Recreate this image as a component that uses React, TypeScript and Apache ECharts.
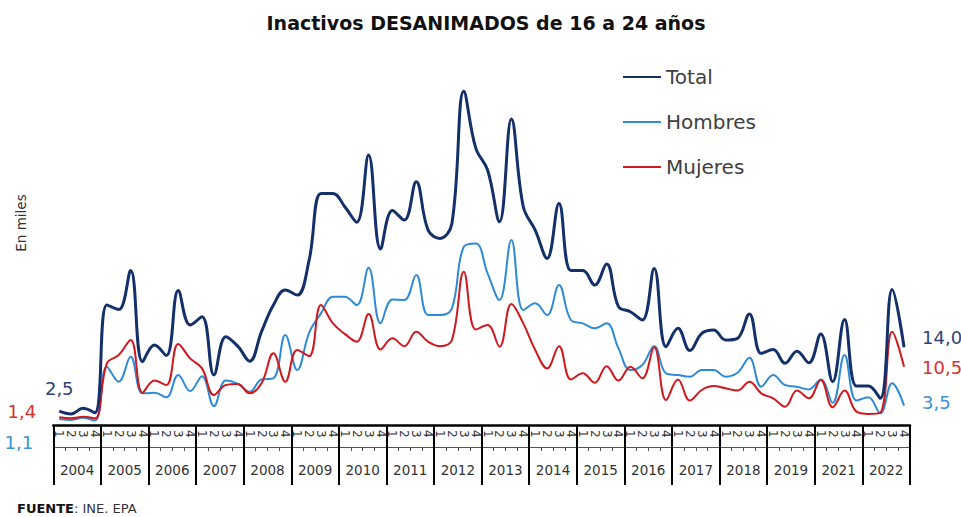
import React, { useEffect, useRef } from 'react';
import * as echarts from 'echarts';

const years = ['2004', '2005', '2006', '2007', '2008', '2009', '2010', '2011', '2012', '2013', '2014', '2015', '2016', '2017', '2018', '2019', '2021', '2022'];
const quarterLabels = ['1', '2', '3', '4'];

const totalValues = [
  2.5, 2.0, 3.0, 2.2,
  21.6, 20.8, 27.8, 11.4,
  14.4, 12.5, 24.2, 18.0,
  19.5, 9.0, 15.9, 14.2,
  11.5, 16.8, 21.6, 24.3,
  23.4, 29.7, 41.7, 41.7,
  39.3, 36.5, 48.6, 31.7,
  38.6, 36.9, 43.8, 35.1,
  33.6, 36.3, 60.1, 49.9,
  45.9, 36.6, 55.1, 39.3,
  35.1, 30.0, 39.9, 27.8,
  27.8, 25.2, 29.0, 21.3,
  20.4, 18.9, 28.2, 14.1,
  17.4, 13.4, 16.5, 17.1,
  15.3, 15.6, 20.0, 12.9,
  13.6, 11.1, 13.3, 11.2,
  16.4, 7.8, 19.0, 7.0,
  7.0, 4.8, 24.4, 14.0,
];

const hombresValues = [
  1.1, 0.9, 1.3, 0.8,
  10.5, 7.8, 12.3, 5.7,
  5.8, 5.0, 9.0, 6.1,
  8.8, 3.4, 8.0, 7.4,
  6.0, 8.2, 8.4, 16.2,
  9.9, 16.6, 20.1, 23.1,
  23.1, 21.6, 28.3, 18.3,
  22.6, 22.5, 27.0, 19.8,
  19.8, 21.0, 32.1, 32.7,
  27.3, 22.5, 33.3, 20.7,
  21.9, 19.8, 25.2, 18.9,
  18.3, 17.4, 18.3, 13.8,
  9.9, 10.8, 14.2, 9.3,
  9.0, 8.7, 9.9, 9.9,
  8.7, 9.4, 12.1, 6.9,
  9.0, 7.2, 6.9, 6.4,
  8.2, 4.0, 12.6, 4.4,
  5.0, 2.1, 7.5, 3.5,
];

const mujeresValues = [
  1.4, 1.2, 1.5, 1.2,
  11.1, 12.6, 15.3, 5.8,
  8.0, 7.2, 14.6, 12.0,
  10.2, 5.4, 7.2, 7.4,
  5.7, 7.5, 12.9, 7.8,
  13.5, 12.4, 21.6, 18.3,
  16.4, 15.0, 20.0, 13.6,
  15.6, 14.2, 16.8, 15.0,
  14.2, 15.3, 27.6, 17.2,
  18.0, 14.1, 21.8, 18.3,
  13.5, 10.2, 14.2, 8.2,
  9.3, 7.6, 10.6, 8.0,
  10.5, 8.4, 14.0, 4.5,
  8.2, 4.4, 6.3, 7.0,
  6.6, 6.2, 7.8, 5.7,
  4.8, 3.3, 6.2, 4.8,
  8.1, 3.2, 6.2, 2.4,
  2.0, 2.2, 16.8, 10.5,
];

const FONT = 'DejaVu Sans';
const NAVY = '#13306b';
const BLUE = '#2f8bd6';
const RED = '#d0191e';

const fmt = (v: number) => v.toFixed(1).replace('.', ',');

function buildData(values: number[], firstLabel: any, lastLabel: any) {
  return values.map((v, i) => {
    const base = {
      show: true,
      fontSize: 18,
      fontFamily: FONT,
      formatter: (p: any) => fmt(Number(p.value)),
    };
    if (i === 0) return { value: v, symbol: 'circle', symbolSize: 0, label: { ...base, ...firstLabel } };
    if (i === values.length - 1) return { value: v, symbol: 'circle', symbolSize: 0, label: { ...base, ...lastLabel } };
    return v;
  });
}

export default function App() {
  const ref = useRef<HTMLDivElement>(null);

  useEffect(() => {
    if (!ref.current) return;
    const chart = echarts.init(ref.current, undefined, { renderer: 'svg' });
    const quarterCats = years.flatMap((y) => quarterLabels.map((q) => `${y}-${q}`));

    const option: any = {
      animation: false,
      backgroundColor: '#ffffff',
      textStyle: { fontFamily: FONT },
      grid: { left: 53.3, right: 51, top: 64, bottom: 92, containLabel: false },
      legend: {
        orient: 'vertical',
        left: 617,
        top: 62,
        itemWidth: 38,
        itemHeight: 20,
        itemGap: 25,
        itemStyle: { opacity: 0 },
        textStyle: { fontSize: 20, color: '#404040', fontFamily: FONT },
        data: ['Total', 'Hombres', 'Mujeres'],
      },
      xAxis: [
        {
          type: 'category',
          position: 'bottom',
          data: quarterCats,
          boundaryGap: true,
          axisLine: { show: true, lineStyle: { color: '#000', width: 2.5 } },
          axisTick: { show: false },
          axisLabel: {
            interval: 0,
            rotate: -90,
            margin: 5,
            fontSize: 12,
            color: '#333',
            fontFamily: FONT,
            formatter: (v: string) => v.split('-')[1],
          },
          splitLine: { show: false },
        },
        {
          type: 'category',
          position: 'bottom',
          offset: 22,
          data: quarterCats,
          boundaryGap: true,
          axisLine: { show: true, lineStyle: { color: '#555', width: 1 } },
          axisTick: { show: true, interval: 0, length: 4, lineStyle: { color: '#555', width: 1 } },
          axisLabel: { show: false },
          splitLine: { show: false },
        },
        {
          type: 'category',
          position: 'bottom',
          offset: 0,
          data: years,
          boundaryGap: true,
          axisLine: { show: false },
          axisTick: { show: true, interval: 0, length: 60, lineStyle: { color: '#000', width: 2 } },
          axisLabel: { interval: 0, margin: 38, fontSize: 13.5, color: '#333', fontFamily: FONT },
          splitLine: { show: false },
        },
      ],
      yAxis: {
        type: 'value',
        min: 0,
        max: 65,
        show: false,
        splitLine: { show: false },
      },
      series: [
        {
          name: 'Hombres',
          type: 'line',
          xAxisIndex: 0,
          smooth: 0.4,
          symbol: 'none',
          color: BLUE,
          lineStyle: { color: BLUE, width: 2 },
          data: buildData(
            hombresValues,
            { position: 'left', distance: 26, offset: [0, 24], color: '#3a93db' },
            { position: 'right', distance: 18, offset: [0, -3], color: '#3a93db' },
          ),
          z: 2,
        },
        {
          name: 'Mujeres',
          type: 'line',
          xAxisIndex: 0,
          smooth: 0.4,
          symbol: 'none',
          color: RED,
          lineStyle: { color: RED, width: 2 },
          data: buildData(
            mujeresValues,
            { position: 'left', distance: 23, offset: [0, -6], color: '#d6312c' },
            { position: 'right', distance: 18, offset: [0, 1], color: '#d6312c' },
          ),
          z: 3,
        },
        {
          name: 'Total',
          type: 'line',
          xAxisIndex: 0,
          smooth: 0.4,
          symbol: 'none',
          color: NAVY,
          lineStyle: { color: NAVY, width: 3 },
          data: buildData(
            totalValues,
            { position: 'top', distance: 14, color: '#2e4379' },
            { position: 'right', distance: 18, offset: [0, -10], color: '#2e4379' },
          ),
          z: 4,
        },
      ],
      graphic: [
        {
          type: 'text',
          x: 486,
          y: 23,
          style: {
            text: 'Inactivos DESANIMADOS de 16 a 24 años',
            align: 'center',
            verticalAlign: 'middle',
            fontSize: 19,
            fontWeight: 'bold',
            fontFamily: FONT,
            fill: '#111',
          },
        },
        {
          type: 'text',
          x: 21,
          y: 223,
          rotation: Math.PI / 2,
          style: {
            text: 'En miles',
            align: 'center',
            verticalAlign: 'middle',
            fontSize: 13.5,
            fontFamily: FONT,
            fill: '#333',
          },
        },
        {
          type: 'text',
          x: 17,
          y: 508,
          style: {
            text: '{b|FUENTE}: INE. EPA',
            verticalAlign: 'middle',
            fontSize: 13,
            fontFamily: FONT,
            fill: '#333',
            rich: {
              b: { fontWeight: 'bold', fontSize: 13, fontFamily: FONT, fill: '#111' },
            },
          },
        },
      ],
    };

    chart.setOption(option);
    return () => {
      chart.dispose();
    };
  }, []);

  return (
    <div
      ref={ref}
      style={{ position: 'fixed', left: 0, top: 0, width: 961, height: 517, background: '#fff' }}
    />
  );
}
